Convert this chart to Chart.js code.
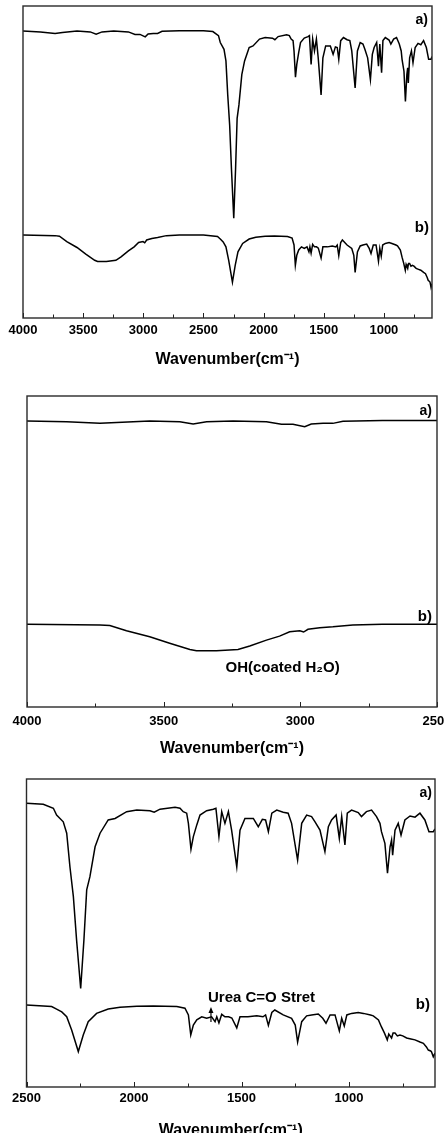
<!DOCTYPE html>
<html><head><meta charset="utf-8">
<script src="https://cdn.jsdelivr.net/npm/chart.js@4.4.0/dist/chart.umd.min.js"></script>
<style>
html,body{margin:0;padding:0;background:#fff;overflow:hidden;width:444px;height:1133px;position:relative;}
.p{position:absolute;left:0;}
</style></head><body>
<div class="p" style="top:0;width:444px;height:375px"><canvas id="c1"></canvas></div>
<div class="p" style="top:380px;width:470px;height:380px"><canvas id="c2"></canvas></div>
<div class="p" style="top:760px;width:444px;height:390px"><canvas id="c3"></canvas></div>
<script>
// Spectrum a) — wavenumber (cm-1) and transmittance (arb. units)
const aWave = [4000,3855,3733,3672,3551,3441,3392,3343,3246,3124,3069,3027,2984,2960,2917,2881,2844,2700,2500,2422,2375,2360,2329,2313,2298,2282,2267,2248,2233,2220,2205,2181,2158,2120,2088,2034,1987,1926,1906,1879,1809,1786,1771,1755,1747,1735,1724,1708,1693,1662,1631,1619,1605,1592,1577,1561,1546,1522,1507,1484,1445,1422,1403,1388,1375,1359,1336,1306,1283,1267,1239,1220,1197,1174,1158,1135,1112,1096,1081,1060,1045,1034,1019,1008,988,957,942,919,895,872,856,849,833,821,809,802,797,786,771,758,740,716,693,670,647,628,608,600];
const aT = [92.0,91.7,91.2,91.5,92.0,91.7,91.0,91.7,92.0,91.7,90.9,90.9,90.1,91.0,91.2,91.2,91.9,92.1,92.1,91.8,90.5,88.3,86.1,82.4,71.5,61.8,47.7,32.0,47.7,64.0,68.3,78.0,82.4,86.7,87.2,89.4,89.9,89.7,89.2,90.2,90.8,90.5,89.4,88.9,85.6,77.2,81.3,85.1,88.3,89.7,90.2,90.5,81.3,89.4,85.6,89.4,83.4,71.5,83.4,87.2,87.2,84.5,86.9,86.7,82.9,88.9,89.9,89.2,88.9,85.6,73.7,85.6,88.3,87.8,86.1,83.4,76.4,84.5,86.7,88.3,80.7,87.8,78.6,88.9,89.9,89.1,87.8,89.4,89.9,87.8,85.6,82.9,79.1,69.4,78.0,80.2,75.3,83.4,85.6,81.8,86.7,88.0,87.6,88.9,86.7,82.9,82.9,83.8];
// Spectrum b)
const bWave = [4000,3733,3697,3636,3551,3478,3404,3380,3307,3228,3185,3124,3076,3039,3002,2988,2972,2929,2881,2808,2700,2500,2383,2360,2336,2313,2290,2259,2236,2213,2174,2120,2065,1987,1910,1801,1763,1747,1736,1724,1708,1685,1662,1639,1623,1615,1605,1592,1577,1560,1545,1522,1507,1470,1429,1400,1388,1375,1359,1345,1306,1267,1250,1239,1220,1197,1174,1143,1122,1107,1088,1065,1045,1034,1022,1010,988,957,933,900,887,863,849,835,822,815,809,802,795,786,775,763,750,732,712,693,670,654,640,631,620,616,608,600];
const bT = [26.6,26.4,26.2,24.5,22.6,20.5,18.5,18.1,18.1,18.5,19.6,21.5,22.8,24.2,24.5,24.1,25.0,25.5,25.8,26.4,26.6,26.6,26.1,25.3,24.4,22.8,18.5,11.5,16.9,21.2,23.9,25.3,25.9,26.2,26.3,26.1,25.6,23.4,16.9,20.1,21.8,22.8,22.3,22.8,21.2,22.8,20.8,23.6,22.8,22.8,22.4,19.2,22.8,22.8,23.1,22.8,23.4,20.0,24.2,25.0,23.4,22.3,20.1,14.6,21.2,23.1,23.4,23.7,22.3,20.7,23.4,23.4,18.2,22.3,19.8,23.4,23.9,24.2,23.9,23.4,23.1,21.8,19.5,17.5,15.3,17.2,16.6,15.9,17.5,17.5,16.6,16.9,16.6,15.9,15.6,15.3,14.6,14.2,13.0,12.0,11.7,11.4,9.8,11.0];

// Tick labels per panel
const ticks1 = [4000,3500,3000,2500,2000,1500,1000];
const ticks2 = [4000,3500,3000,2500];
const ticks3 = [2500,2000,1500,1000];

const xTitle = 'Wavenumber(cm\u207B\u00B9)';
const FONT = '"Liberation Sans", Arial, Helvetica, sans-serif';

const ftirPlugin = {
  id: 'ftir',
  afterDraw(chart, args, opts) {
    const ctx = chart.ctx;
    const {left, right, top, bottom} = chart.chartArea;
    const xs = chart.scales.x, ys = chart.scales.y;
    ctx.save();
    // inward ticks (major + minor)
    ctx.strokeStyle = '#222';
    ctx.lineWidth = 1;
    for (let v = Math.ceil(xs.min / 250) * 250; v <= xs.max; v += 250) {
      const px = Math.round(xs.getPixelForValue(v)) + 0.5;
      const len = (v % 500 === 0) ? 5 : 3.5;
      ctx.beginPath(); ctx.moveTo(px, bottom); ctx.lineTo(px, bottom - len); ctx.stroke();
    }
    // frame
    ctx.strokeStyle = '#2a2a2a';
    ctx.lineWidth = 1.4;
    ctx.strokeRect(left, top, right - left, bottom - top);
    // texts
    ctx.fillStyle = '#000';
    ctx.textBaseline = 'middle';
    for (const t of (opts.texts || [])) {
      ctx.font = 'bold ' + t.size + 'px ' + FONT;
      ctx.textAlign = t.align;
      const x = t.inset != null ? right - t.inset : xs.getPixelForValue(t.x);
      ctx.fillText(t.text, x, ys.getPixelForValue(t.y));
    }
    // arrow
    if (opts.arrow) {
      const a = opts.arrow;
      const x = xs.getPixelForValue(a.x);
      const y0 = ys.getPixelForValue(a.y0), y1 = ys.getPixelForValue(a.y1);
      ctx.strokeStyle = '#000'; ctx.lineWidth = 1.2;
      ctx.beginPath(); ctx.moveTo(x, y0); ctx.lineTo(x, y1 + 4); ctx.stroke();
      ctx.beginPath(); ctx.moveTo(x, y1); ctx.lineTo(x - 2.5, y1 + 6); ctx.lineTo(x + 2.5, y1 + 6); ctx.closePath(); ctx.fill();
    }
    ctx.restore();
  }
};

function pts(w, t) { return w.map((v, i) => ({x: v, y: t[i]})); }

function makeChart(id, cfg) {
  return new Chart(document.getElementById(id), {
    type: 'line',
    data: {
      datasets: [
        {data: pts(aWave, aT), borderColor: '#000', borderWidth: 1.5, pointRadius: 0, tension: 0, fill: false},
        {data: pts(bWave, bT), borderColor: '#000', borderWidth: 1.5, pointRadius: 0, tension: 0, fill: false}
      ]
    },
    options: {
      responsive: true, maintainAspectRatio: false, animation: false,
      events: [],
      layout: {padding: {left: cfg.pl, right: cfg.pr, top: cfg.pt, bottom: 0}},
      plugins: {legend: {display: false}, tooltip: {enabled: false}, ftir: {texts: cfg.texts, arrow: cfg.arrow}},
      scales: {
        x: {
          type: 'linear', reverse: true, min: cfg.min, max: cfg.max,
          grid: {display: false, drawTicks: false}, border: {display: false},
          afterBuildTicks(s) { s.ticks = cfg.ticks.map(v => ({value: v})); },
          ticks: {autoSkip: false, maxRotation: 0, padding: cfg.tp, color: '#000',
                  callback: v => String(v),
                  font: {family: FONT, weight: 'bold', size: 13}},
          title: {display: true, text: xTitle, color: '#000', font: {family: FONT, weight: 'bold', size: 16},
                  padding: {top: 0, bottom: cfg.pb}},
          afterFit(s) { s.height = cfg.sh; }
        },
        y: {display: false, min: 0, max: 100}
      }
    },
    plugins: [ftirPlugin]
  });
}

makeChart('c1', {min: 600, max: 4000, ticks: ticks1, pl: 23, pr: 12, pt: 6, sh: 57, pb: 6, tp: 5,
  texts: [{text: 'a)', inset: 4, y: 95.5, align: 'right', size: 14},
          {text: 'b)', inset: 3, y: 28.8, align: 'right', size: 15}]});
makeChart('c2', {min: 2500, max: 4000, ticks: ticks2, pl: 27, pr: 33, pt: 16, sh: 53, pb: 2, tp: 7,
  texts: [{text: 'a)', inset: 5, y: 95.2, align: 'right', size: 14},
          {text: 'b)', inset: 5, y: 28.9, align: 'right', size: 15},
          {text: 'OH(coated H\u2082O)', x: 3065, y: 12.5, align: 'center', size: 15}]});
makeChart('c3', {min: 600, max: 2500, ticks: ticks3, pl: 26.5, pr: 9, pt: 19, sh: 63, pb: 10, tp: 4,
  texts: [{text: 'a)', inset: 3, y: 95.5, align: 'right', size: 14},
          {text: 'b)', inset: 5, y: 26.6, align: 'right', size: 15},
          {text: 'Urea C=O Stret', x: 1656, y: 28.9, align: 'left', size: 15}],
  arrow: {x: 1642, y0: 21.1, y1: 26.0}});
</script>
</body></html>
